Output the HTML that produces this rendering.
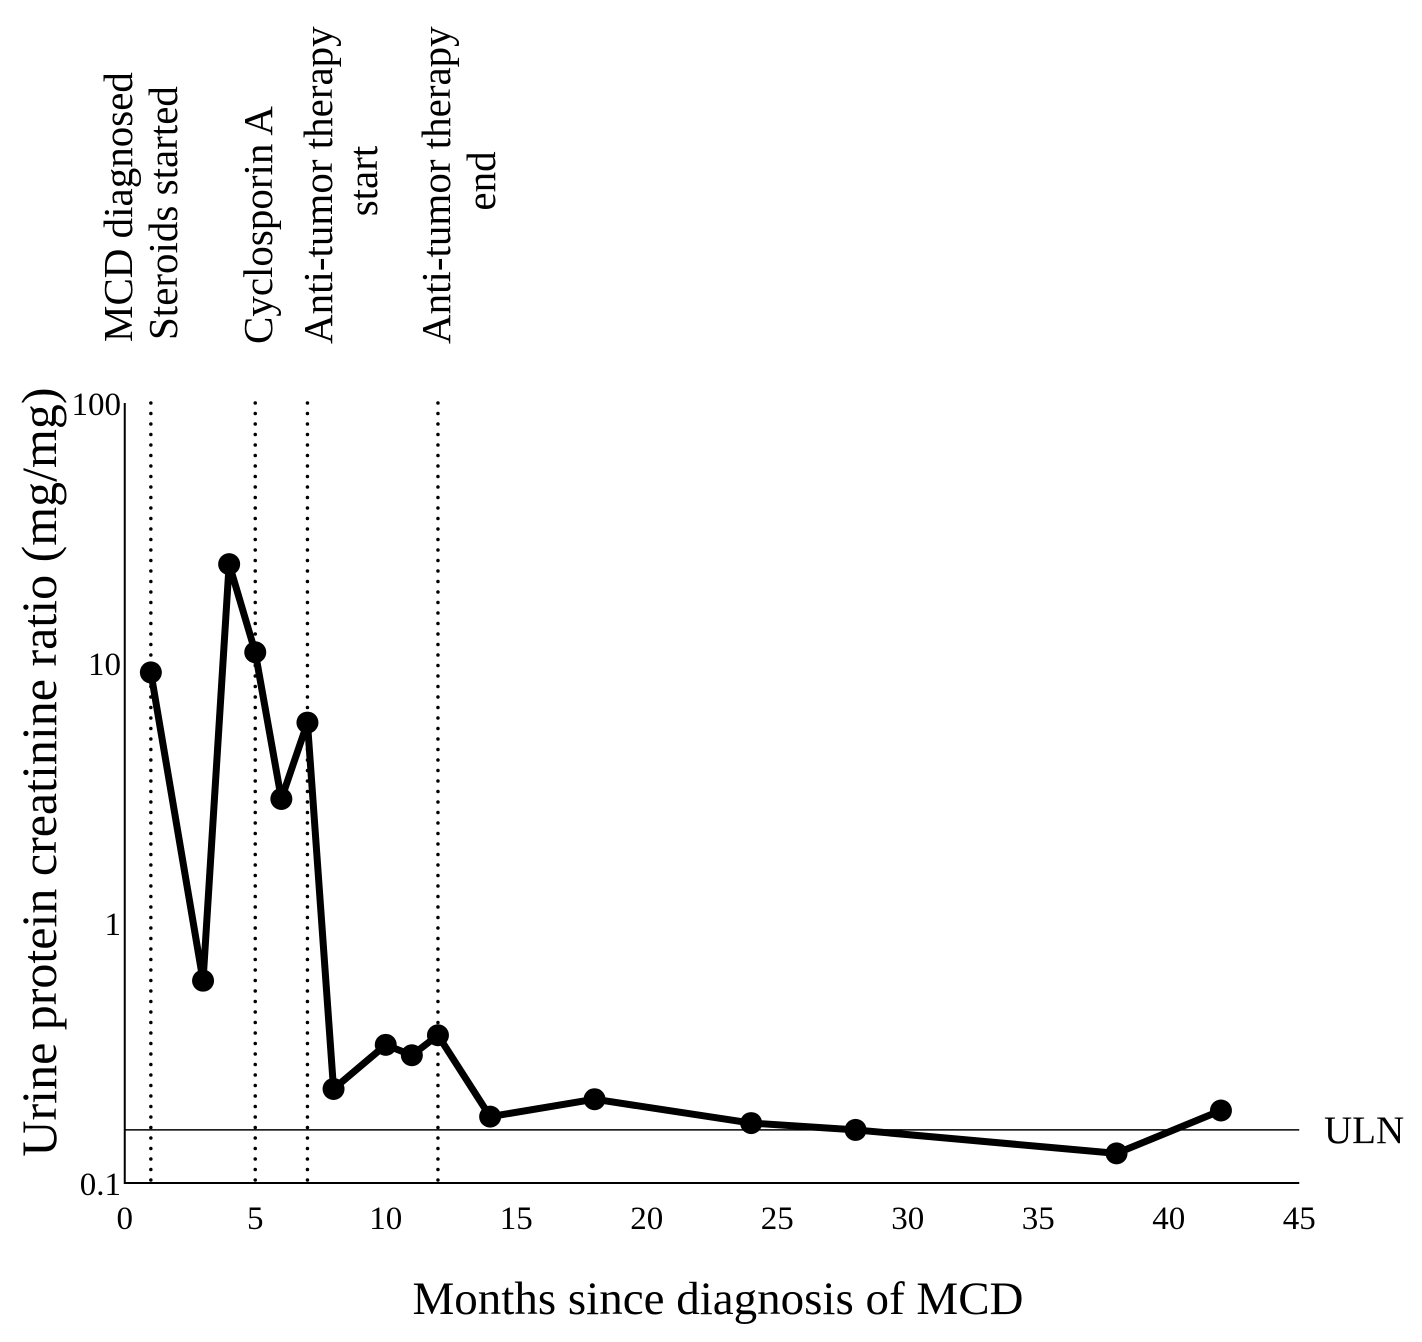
<!DOCTYPE html>
<html><head><meta charset="utf-8"><style>
html,body{margin:0;padding:0;background:#fff}
svg{display:block;font-family:"Liberation Serif",serif}
</style></head><body>
<svg id="chart" width="1422" height="1342" viewBox="0 0 1422 1342">
<g font-size="41" fill="#000">
<text transform="translate(132,342) rotate(-90)">MCD diagnosed</text>
<text transform="translate(177,340) rotate(-90)">Steroids started</text>
<text transform="translate(272,344) rotate(-90)">Cyclosporin A</text>
<text transform="translate(332,344) rotate(-90)">Anti-tumor therapy</text>
<text text-anchor="middle" transform="translate(377,181) rotate(-90)">start</text>
<text transform="translate(450,344) rotate(-90)">Anti-tumor therapy</text>
<text text-anchor="middle" transform="translate(495,181) rotate(-90)">end</text>
</g>
<g id="plot"></g>
<text font-size="50" text-anchor="middle" transform="translate(56,772) rotate(-90)">Urine protein creatinine ratio (mg/mg)</text>
<text font-size="47" text-anchor="middle" x="718" y="1314">Months since diagnosis of MCD</text>
<text font-size="39" x="1324" y="1143">ULN</text>
</svg>
<script>
const months=[1,3,4,5,6,7,8,10,11,12,14,18,24,28,38,42];
const ratios=[9.2,0.6,24,11,3.0,5.9,0.23,0.34,0.31,0.37,0.18,0.21,0.17,0.16,0.13,0.19];
const eventMonths=[1,5,7,12];
const xTicks=[0,5,10,15,20,25,30,35,40,45];
const yTicks=[0.1,1,10,100];
const yTickLabels=["0.1","1","10","100"];
const ulnValue=0.16;
const X0=124.75,XS=26.1,YB=1183,DEC=260;
const xs=m=>X0+m*XS;
const ys=v=>YB-(Math.log10(v)+1)*DEC;
const NS="http://www.w3.org/2000/svg";
const g=document.getElementById('plot');
function mk(t,a){const e=document.createElementNS(NS,t);for(const k in a)e.setAttribute(k,a[k]);g.appendChild(e);return e;}
eventMonths.forEach(m=>{
 const l=mk('line',{x1:xs(m),x2:xs(m),y1:ys(100),y2:YB,stroke:'#000','stroke-width':3.5,'stroke-dasharray':'0 10.5','stroke-linecap':'round'});
 
 
});
const ax=mk('path',{d:`M${X0} ${ys(100)}V${YB}H${xs(45)}`,fill:'none',stroke:'#000','stroke-width':2});


const u=mk('line',{x1:X0,x2:xs(45),y1:ys(ulnValue),y2:ys(ulnValue),stroke:'#000','stroke-width':1.5});


yTicks.forEach((v,i)=>{const t=mk('text',{x:121,y:ys(v)+12,'text-anchor':'end','font-size':33});t.textContent=yTickLabels[i];
 
 });
xTicks.forEach(v=>{const t=mk('text',{x:xs(v),y:1229,'text-anchor':'middle','font-size':33});t.textContent=v;
 
 });
const pl=mk('polyline',{points:months.map((m,i)=>xs(m)+','+ys(ratios[i])).join(' '),fill:'none',stroke:'#000','stroke-width':7,'stroke-linejoin':'round'});


months.forEach((m,i)=>{const c=mk('circle',{cx:xs(m),cy:ys(ratios[i]),r:11,fill:'#000'});
 
 });
</script>
</body></html>
